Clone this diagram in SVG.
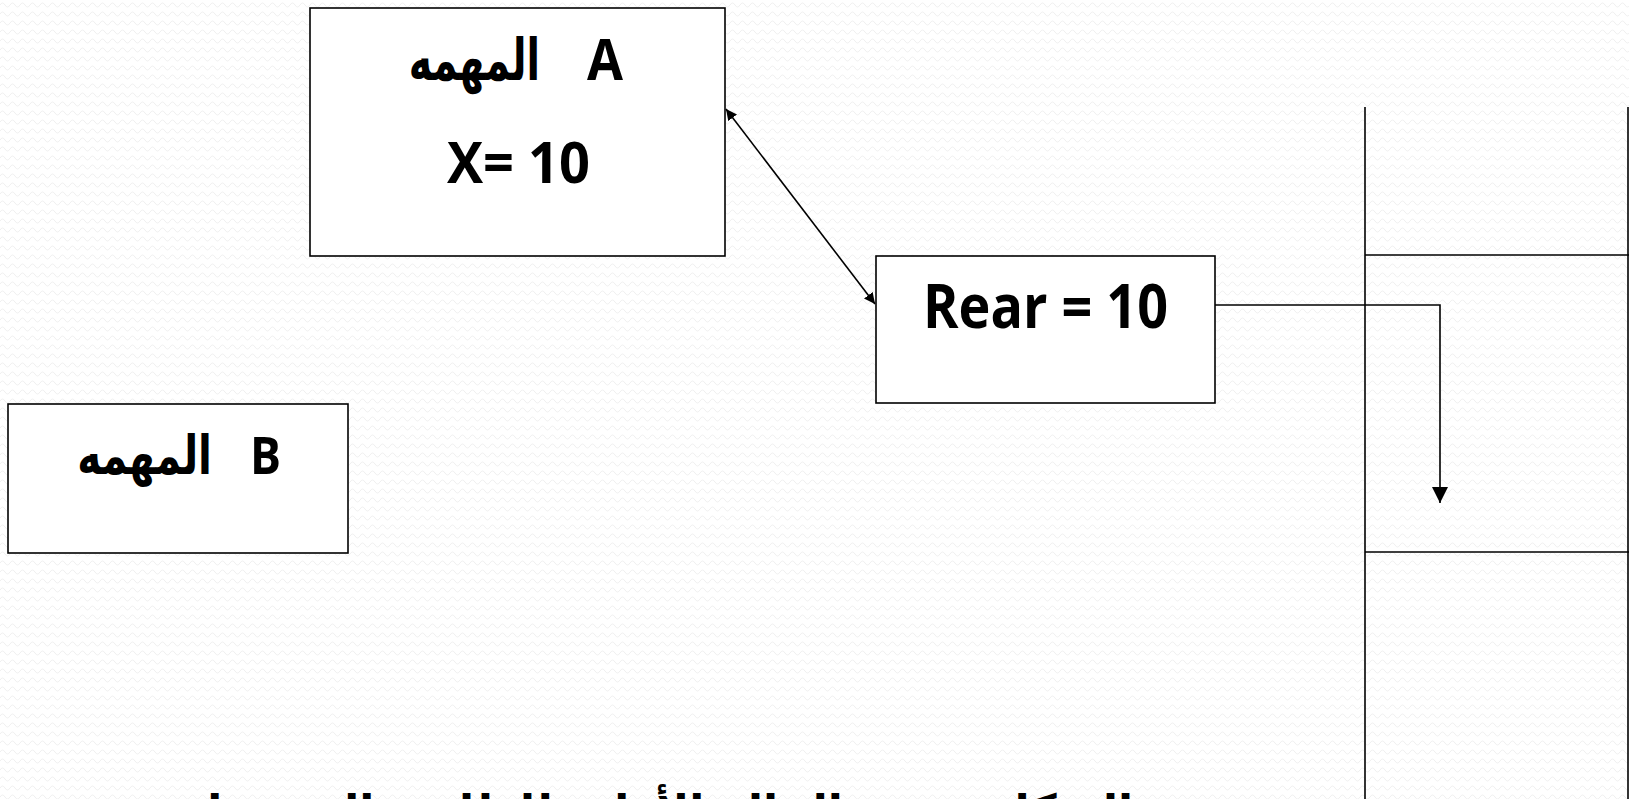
<svg xmlns="http://www.w3.org/2000/svg" width="1629" height="799" viewBox="0 0 1629 799">
  <style>
    .box { fill: #ffffff; stroke: #000000; stroke-width: 1.6; }
    .line { fill: none; stroke: #000000; stroke-width: 1.6; }
    .lat { font-family: "Open Sans", "DejaVu Sans", sans-serif; font-weight: bold; fill: #000000; }
    .ar { font-family: "DejaVu Sans", "Noto Sans", sans-serif; font-weight: bold; fill: #000000; }
  </style>
  <defs>
    <!-- faint wavy paper texture -->
    <pattern id="waves" width="10" height="9" patternUnits="userSpaceOnUse">
      <path d="M0 5 Q2.5 1 5 5 T10 5" fill="none" stroke="#efefef" stroke-width="1"/>
    </pattern>
    <marker id="arrowEnd" viewBox="0 0 10 10" refX="10" refY="5" markerWidth="11" markerHeight="11" markerUnits="userSpaceOnUse" orient="auto">
      <path d="M0 0 L10 5 L0 10 Z" fill="#000000"/>
    </marker>
    <marker id="arrowStart" viewBox="0 0 10 10" refX="0" refY="5" markerWidth="11" markerHeight="11" markerUnits="userSpaceOnUse" orient="auto">
      <path d="M10 0 L0 5 L10 10 Z" fill="#000000"/>
    </marker>
    <marker id="arrowBig" viewBox="0 0 16 16" refX="16" refY="8" markerWidth="16" markerHeight="16" markerUnits="userSpaceOnUse" orient="auto">
      <path d="M0 0 L16 8 L0 16 Z" fill="#000000"/>
    </marker>
  </defs>

  <rect x="0" y="0" width="1629" height="799" fill="#ffffff"/>
  <rect x="0" y="0" width="1629" height="799" fill="url(#waves)"/>

  <!-- queue slots on the right -->
  <g id="queue">
    <line class="line" x1="1365" y1="107" x2="1365" y2="799"/>
    <line class="line" x1="1628" y1="107" x2="1628" y2="799"/>
    <line class="line" x1="1365" y1="255" x2="1629" y2="255"/>
    <line class="line" x1="1365" y1="552" x2="1629" y2="552"/>
  </g>

  <g id="connectors">
    <line class="line" x1="726" y1="109" x2="875" y2="304" marker-start="url(#arrowStart)" marker-end="url(#arrowEnd)"/>
    <polyline class="line" points="1215,305 1440,305 1440,503" marker-end="url(#arrowBig)"/>
  </g>

  <g id="taskA">
    <rect class="box" x="310" y="8" width="415" height="248"/>
    <!-- Arabic word squeezed horizontally to sit left of the letter -->
    <text class="ar" font-size="58" text-anchor="end" transform="translate(540 80) scale(0.68 1)">المهمه</text>
    <text class="lat" x="587" y="80" font-size="58" textLength="36" lengthAdjust="spacingAndGlyphs">A</text>
    <text class="lat" x="447" y="183" font-size="58" textLength="143" lengthAdjust="spacingAndGlyphs">X= 10</text>
  </g>

  <g id="rear">
    <rect class="box" x="876" y="256" width="339" height="147"/>
    <text class="lat" x="923" y="328" font-size="60" textLength="245" lengthAdjust="spacingAndGlyphs">Rear = 10</text>
  </g>

  <g id="taskB">
    <rect class="box" x="8" y="404" width="340" height="149"/>
    <text class="ar" font-size="54" text-anchor="end" transform="translate(212 474) scale(0.75 1)">المهمه</text>
    <text class="lat" x="250" y="474" font-size="52" textLength="31" lengthAdjust="spacingAndGlyphs">B</text>
  </g>

  <!-- caption, running off the bottom edge -->
  <g id="caption">
    <text class="ar" x="1133" y="826" font-size="44" direction="rtl" text-anchor="start">الشكل يوضح الحالة الأولى للطابور المشترك</text>
  </g>
</svg>
